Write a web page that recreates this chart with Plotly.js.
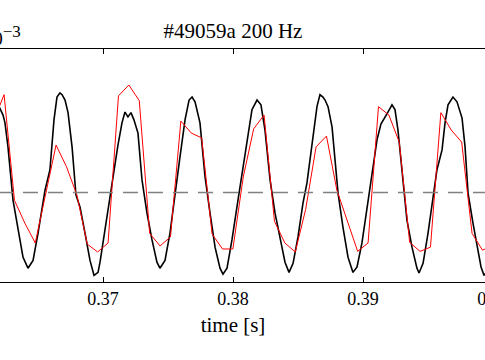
<!DOCTYPE html>
<html>
<head>
<meta charset="utf-8">
<script src="https://cdn.plot.ly/plotly-3.0.1.min.js"></script>
<style>
  html, body { margin: 0; padding: 0; overflow: hidden; width: 485px; height: 360px; background: #fff; }
  #chart { position: absolute; left: -27px; top: 0; width: 540px; height: 360px; }
</style>
</head>
<body>
<div id="chart"></div>
<script>
// Reference signal (black), time in s, value in units of 1e-3
const timeRef = [0.36177,0.36208,0.36231,0.36246,0.36269,0.36308,0.36346,0.36385,0.36423,0.36462,0.36500,0.36554,0.36592,0.36623,0.36646,0.36669,0.36685,0.36708,0.36731,0.36762,0.36792,0.36823,0.36862,0.36900,0.36931,0.36962,
  0.36977,0.37015,0.37054,0.37092,0.37115,0.37146,0.37169,0.37192,0.37215,0.37238,0.37269,0.37300,0.37338,0.37377,0.37415,0.37438,0.37477,0.37515,0.37554,0.37592,0.37631,0.37662,0.37685,
  0.37708,0.37746,0.37785,0.37823,0.37862,0.37900,0.37923,0.37954,0.37992,0.38038,0.38077,0.38115,0.38146,0.38185,0.38215,0.38246,0.38285,0.38323,0.38362,0.38400,
  0.38431,0.38462,0.38500,0.38538,0.38569,0.38592,0.38615,0.38646,0.38669,0.38692,0.38708,0.38731,0.38762,0.38785,0.38808,0.38846,0.38885,0.38923,0.38954,0.38992,0.39031,0.39069,0.39108,0.39138,0.39162,0.39192,0.39223,0.39246,0.39269,0.39300,0.39338,0.39377,0.39415,0.39431,0.39462,0.39500,0.39538,0.39569,0.39608,0.39631,0.39654,0.39692,0.39723,0.39762,0.39785,0.39808,0.39846,0.39877,0.39908,0.39931,0.39962];
const valueRef = [1.54,1.41,1.29,1.16,0.76,-0.13,-0.63,-1.08,-1.26,-1.13,-0.68,0.04,0.38,1.21,1.59,1.66,1.63,1.54,1.33,0.76,-0.04,-0.24,-0.68,-1.13,-1.38,-1.33,
  -1.16,-0.63,-0.08,0.49,0.79,1.16,1.34,1.26,1.33,1.21,0.99,0.21,-0.34,-0.79,-1.16,-1.26,-1.13,-0.68,-0.08,0.59,1.21,1.54,1.59,
  1.51,1.16,0.26,-0.34,-0.91,-1.26,-1.36,-1.26,-0.79,-0.13,0.43,0.99,1.38,1.54,1.46,1.04,0.21,-0.34,-0.74,-1.16,
  -1.33,-1.18,-0.74,-0.18,0.16,0.54,0.99,1.43,1.63,1.59,1.54,1.43,1.09,0.49,-0.01,-0.58,-1.08,-1.33,-1.24,-0.84,-0.24,0.33,0.88,1.14,1.24,1.34,1.46,1.38,1.04,0.33,-0.46,-0.91,-1.26,-1.34,-1.18,-0.68,-0.08,0.38,0.71,1.16,1.46,1.59,1.51,1.24,0.76,-0.01,-0.51,-0.91,-1.24,-1.38,-1.29];

// Sampled signal (red), 0.8 ms sampling
const timeSampled = [0.36159,0.36239,0.36319,0.36399,0.36479,0.36559,0.36639,0.36719,0.36799,0.36879,0.36959,0.37039,0.37119,0.37199,0.37279,0.37359,0.37439,0.37519,0.37599,0.37679,0.37759,0.37839,0.37919,0.37999,0.38079,0.38159,0.38239,0.38319,0.38399,0.38479,0.38559,0.38639,0.38719,0.38799,0.38879,0.38959,0.39039,0.39119,0.39199,0.39279,0.39359,0.39439,0.39519,0.39599,0.39679,0.39759,0.39839,0.39919,0.39999];
const valueSampled = [1.19,1.63,-0.13,-0.51,-0.84,-0.01,0.79,0.43,-0.04,-0.86,-0.99,-0.84,1.61,1.79,1.53,-0.68,-0.89,-0.74,1.19,0.99,0.91,-0.69,-0.94,-0.94,0.26,1.06,1.29,-0.48,-0.84,-0.99,-0.28,0.76,0.94,0.04,-0.48,-0.98,-0.84,1.43,1.29,0.84,-0.83,-0.98,-0.91,1.33,1.04,0.84,-0.68,-0.96,-0.88];

const xTicks = [0.36, 0.37, 0.38, 0.39, 0.40];
const xTickText = ['0.36', '0.37', '0.38', '0.39', '0.40'];
const titleText = '#49059a 200 Hz';
const xLabel = 'time [s]';

const serif = 'Liberation Serif, Times New Roman, serif';

const traces = [
  { x: timeRef, y: valueRef, type: 'scatter', mode: 'lines',
    line: { color: '#000000', width: 1.6 }, hoverinfo: 'skip', showlegend: false },
  { x: timeSampled, y: valueSampled, type: 'scatter', mode: 'lines',
    line: { color: '#ff0000', width: 1 }, hoverinfo: 'skip', showlegend: false }
];

const layout = {
  width: 540, height: 360,
  margin: { l: 0, r: 20, t: 49, b: 78, pad: 0 },
  paper_bgcolor: '#ffffff', plot_bgcolor: '#ffffff',
  showlegend: false,
  title: { text: titleText, x: 0.5, xref: 'paper', xanchor: 'center',
           y: 0.914, yref: 'container', yanchor: 'middle',
           font: { family: serif, size: 21, color: '#000' } },
  xaxis: {
    range: [0.36, 0.40], automargin: false,
    showline: true, linecolor: '#000', linewidth: 1, mirror: 'ticks',
    ticks: 'inside', ticklen: 5, tickwidth: 1, tickcolor: '#000',
    tickvals: xTicks, ticktext: xTickText,
    tickfont: { family: serif, size: 18, color: '#000' },
    showgrid: false, zeroline: false,
    title: { text: xLabel, font: { family: serif, size: 21, color: '#000' }, standoff: 9 }
  },
  yaxis: {
    range: [-1.49, 2.39], automargin: false,
    showline: false, showticklabels: false, ticks: '',
    showgrid: false, zeroline: false
  },
  shapes: [
    { type: 'line', xref: 'x', yref: 'y', x0: 0.36192, x1: 0.40, y0: 0, y1: 0,
      line: { color: '#808080', width: 1.5, dash: '15px,10px' } }
  ],
  annotations: [
    { text: '×10<sup><span style="font-size:17px">−3</span></sup>', xref: 'paper', yref: 'paper', x: 0.0962, y: 1.056,
      xanchor: 'right', yanchor: 'middle', showarrow: false,
      font: { family: serif, size: 19, color: '#000' } }
  ]
};

Plotly.newPlot('chart', traces, layout, { staticPlot: true, displayModeBar: false });
</script>
</body>
</html>
